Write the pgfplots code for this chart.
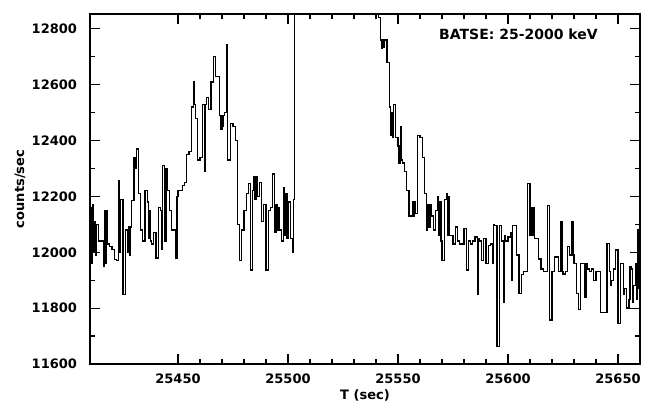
\documentclass[border=0pt]{standalone}
\usepackage{fontspec}
\setmainfont{DejaVu Sans}
\usepackage{pgfplots}
\pgfplotsset{compat=1.18}

\begin{document}
\begin{tikzpicture}
\useasboundingbox (-45pt,-19.5pt) rectangle (277.5pt,182pt);
\begin{axis}[
  at={(0,0)}, anchor=south west,
  scale only axis,
  width=275pt, height=175pt,
  xmin=25410, xmax=25660, ymin=11600, ymax=12853,
  xtick={25450,25500,25550,25600,25650},
  ytick={11600,11800,12000,12200,12400,12600,12800},
  scaled ticks=false,
  minor x tick num=4, minor y tick num=1,
  tick align=inside, major tick length=5pt, minor tick length=2.5pt,
  tick style={black, line width=0.6pt},
  axis line style={black, line width=0.8pt},
  xticklabel style={/pgf/number format/.cd, fixed, precision=0, set thousands separator={}, /tikz/.cd, yshift=-1.5pt},
  yticklabel style={/pgf/number format/.cd, fixed, precision=0, set thousands separator={}, /tikz/.cd, xshift=-3pt},
  /pgf/number format/assume math mode=true,
  tick label style={font=\fontsize{6.5}{7}\selectfont\bfseries},
  label style={font=\fontsize{6.5}{7}\selectfont\bfseries},
  xlabel={T (sec)}, ylabel={counts/sec},
  xlabel style={at={(axis description cs:0.5,0)}, anchor=center, yshift=-15.5pt},
  ylabel style={at={(axis description cs:0,0.5)}, anchor=center, rotate=0, yshift=35pt},
  clip=true,
]
\addplot[const plot, black, line width=0.65pt] coordinates {
(25409,12100)(25409.5,11950)(25410,12160)(25410.5,11960)(25411,12170)(25411.5,12000)(25412,12110)(25412.5,11990)(25413,12100)(25414,12040)
(25415,12040)(25416,11950)(25416.5,12150)(25417,11960)(25417.5,12150)(25418,12030)(25419,12020)(25420,12010)
(25421,11975)(25422,11970)(25423,12255)(25423.5,12000)(25424,12190)(25425,11850)(25426,12080)
(25427,12000)(25427.5,12090)(25428,11990)(25428.5,12090)(25429,12185)(25430,12340)(25430.5,12300)(25431,12370)(25432,12210)
(25433,12080)(25434,12040)(25435,12220)(25436,12180)(25436.5,12050)(25437,12150)(25437.5,12040)(25438,12030)
(25439,12070)(25440,11980)(25441,12160)(25442,12150)(25442.5,12010)(25443,12310)(25444,12040)(25444.5,12300)
(25445,12220)(25446,12150)(25447,12080)(25448,12080)(25449,11980)(25449.5,12200)(25450,12220)
(25451,12220)(25452,12240)(25453,12250)(25454,12350)(25455,12360)(25456,12520)
(25457,12610)(25457.5,12530)(25458,12480)(25459,12330)(25460,12340)(25461,12530)(25462,12290)(25462.5,12530)
(25463,12555)(25464,12510)(25465,12610)(25466,12700)(25467,12630)(25468,12630)
(25469,12490)(25469.5,12440)(25470,12450)(25470.5,12490)(25471,12500)(25472,12745)(25472.5,12330)(25473,12330)(25474,12460)
(25475,12450)(25476,12400)(25477,12100)(25478,11970)(25479,12080)(25480,12150)
(25481,12210)(25482,12245)(25483,11936)(25484,12220)(25484.5,12270)(25485,12190)(25485.5,12270)(25486,12200)
(25487,12250)(25488,12110)(25489,12170)(25490,11936)(25491,12150)(25492,12160)
(25493,12280)(25494,12070)(25494.5,12170)(25495,12080)(25495.5,12160)(25496,12080)(25497,12040)(25498,12230)(25498.5,12060)(25499,12210)
(25499.5,12050)(25500,12180)(25501,12050)(25502,12000)(25502.5,12190)
(25503,14000)
(25541,12840)(25542,12760)(25542.5,12730)(25543,12760)(25543.5,12735)(25544,12760)(25545,12680)(25546,12520)
(25546.5,12420)(25547,12500)(25547.5,12410)(25548,12530)(25549,12410)(25550,12380)(25550.5,12320)(25551,12450)(25551.5,12330)(25552,12320)
(25553,12290)(25554,12220)(25555,12130)(25556,12130)(25556.5,12180)(25557,12130)(25557.5,12180)(25558,12140)
(25559,12418)(25560,12410)(25561,12340)(25562,12210)(25563,12080)(25563.5,12170)(25564,12090)(25564.5,12170)
(25565,12130)(25566,12080)(25567,12150)(25568,12200)(25568.5,12060)(25569,12180)(25569.5,12040)(25570,11971)
(25571,12190)(25572,12210)(25572.5,12060)(25573,12200)(25573.5,12060)(25574,12060)(25575,12030)(25576,12090)
(25577,12040)(25578,12030)(25579,12030)(25580,12085)(25581,11936)(25582,12040)
(25583,12030)(25584,12040)(25585,12055)(25586,11850)(25586.5,12050)(25587,12040)(25588,11970)
(25589,12050)(25590,11960)(25591,12025)(25592,12030)(25593,11960)(25593.5,12100)(25594,12095)
(25595,11662)(25596,12095)(25597,12040)(25598,11819)(25598.5,12060)(25599,12040)(25600,12055)
(25601,12070)(25601.5,11900)(25602,12095)(25603,12095)(25604,11990)(25605,11852)(25606,11920)
(25607,11930)(25608,11930)(25609,12245)(25610,12060)(25610.5,12160)(25611,12060)(25611.5,12160)(25612,12050)
(25613,12050)(25614,11976)(25615,11940)(25616,11930)(25617,11930)(25618,12168)
(25619,11757)(25620,11930)(25621,11983)(25622,11983)(25623,11930)(25624,12110)
(25624.5,11930)(25625,11922)(25626,11930)(25627,12020)(25628,11990)(25629,12110)(25629.5,11990)(25630,11960)
(25631,11852)(25632,11795)(25633,11960)(25634,11960)(25635,11840)(25635.5,11960)(25636,11940)
(25637,11930)(25638,11940)(25639,11900)(25640,11930)(25641,11930)(25642,11785)
(25643,11785)(25644,11785)(25645,12031)(25646,11930)(25646.5,11880)(25647,11900)(25648,11940)
(25649,12008)(25650,11745)(25651,11960)(25652,11960)(25652.5,11850)(25653,11870)(25654,11800)
(25655,11830)(25655.5,11950)(25656,11940)(25656.5,11820)(25657,11880)(25658,11960)(25658.5,11830)(25659,12080)(25659.5,11870)(25660,11870)
};
\node[anchor=east, font=\fontsize{7}{8}\selectfont\bfseries]
  at (axis cs:25644,12782) {BATSE:~25-2000~keV};
\end{axis}
\end{tikzpicture}
\end{document}
